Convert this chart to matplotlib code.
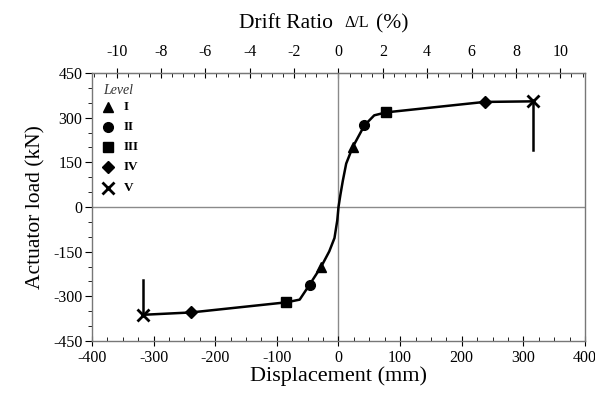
from matplotlib import pyplot as plt
from matplotlib.ticker import MultipleLocator, FixedLocator
import numpy as np

plt.rcParams["font.family"] = ["Liberation Serif", "DejaVu Serif"]
plt.rcParams["axes.unicode_minus"] = False

# backbone curve (mm, kN)
curve_disp = [-318, -239, -84.5, -63, -47, -28, -15, -6.5, -2, 0, 3, 7, 12.5, 23, 42, 58, 77.5, 237, 316]
curve_load = [-362, -354, -320, -311, -261, -200, -149, -104, -45, 0, 40, 88, 146, 201, 274, 308, 318, 353, 355]

# level points
levels = ["I", "II", "III", "IV", "V"]
level_markers = ["^", "o", "s", "D", "x"]
level_disp = [[23, -28], [42, -47], [77.5, -84.5], [237, -239], [316, -318]]
level_load = [[201, -200], [274, -261], [318, -320], [353, -354], [355, -362]]

# drops after level V
drop_disp = [316, -318]
drop_load = [[355, 190], [-362, -244]]

drift_ticks = [-10, -8, -6, -4, -2, 0, 2, 4, 6, 8, 10]
drift_L = 3600.0  # mm

fig = plt.figure(figsize=(5.95, 3.97), dpi=100)
ax = fig.add_axes([0.1546, 0.141, 0.8286, 0.675])

ax.axhline(0, color="#8a8a8a", lw=1.0, zorder=1)
ax.axvline(0, color="#8a8a8a", lw=1.0, zorder=1)

ax.plot(curve_disp, curve_load, color="black", lw=1.8, zorder=3)
for d, l in zip(drop_disp, drop_load):
    ax.plot([d, d], l, color="black", lw=1.8, zorder=3)

sizes = [7.5, 7, 7, 6.5, 8.5]
for m, xs, ys, s in zip(level_markers, level_disp, level_load, sizes):
    ax.plot(xs, ys, ls="none", marker=m, color="black", ms=s, mew=2 if m == "x" else 1, zorder=4)

# legend drawn by hand
ax.text(0.022, 0.934, "Level", style="italic", fontsize=10, transform=ax.transAxes, va="center", color="#333333")
leg_y = [0.873, 0.80, 0.724, 0.649, 0.571]
for m, lab, y, s in zip(level_markers, levels, leg_y, sizes):
    ax.plot([0.032], [y], marker=m, color="black", ms=s, mew=2 if m == "x" else 1,
            transform=ax.transAxes, clip_on=False)
    ax.text(0.064, y, lab, fontsize=9.5, fontweight="bold", transform=ax.transAxes, va="center")

ax.set_xlim(-400, 400)
ax.set_ylim(-450, 450)
ax.xaxis.set_major_locator(MultipleLocator(100))
ax.xaxis.set_minor_locator(MultipleLocator(25))
ax.yaxis.set_major_locator(MultipleLocator(150))
ax.yaxis.set_minor_locator(MultipleLocator(50))
ax.tick_params(axis="x", which="major", direction="inout", length=7, labelsize=11.5, pad=3)
ax.tick_params(axis="x", which="minor", direction="in", length=3)
ax.tick_params(axis="y", which="major", direction="out", length=5, labelsize=11.5, pad=2)
ax.tick_params(axis="y", which="minor", direction="out", length=3)

for sp in ax.spines.values():
    sp.set_color("#777777")
    sp.set_linewidth(1.0)

ax.set_xlabel("Displacement (mm)", fontsize=16, labelpad=0)
ax.set_ylabel("Actuator load (kN)", fontsize=15.5, labelpad=5)

top = ax.secondary_xaxis("top", functions=(lambda d: d / drift_L * 100, lambda r: r * drift_L / 100))
top.xaxis.set_major_locator(FixedLocator(drift_ticks))
top.xaxis.set_minor_locator(FixedLocator(np.arange(-11, 11.01, 0.5)))
top.tick_params(which="major", direction="inout", length=7, labelsize=11.5, pad=6)
top.tick_params(which="minor", direction="in", length=3)
top.spines["top"].set_color("#777777")

# top axis title, with the ratio in a smaller size
fig.text(0.560, 0.94, "Drift Ratio", fontsize=15.5, ha="right", va="center")
fig.text(0.600, 0.943, "Δ/L", fontsize=11.5, ha="center", va="center")
fig.text(0.632, 0.94, "(%)", fontsize=15.5, ha="left", va="center")

fig.savefig("out.png", dpi=100)
